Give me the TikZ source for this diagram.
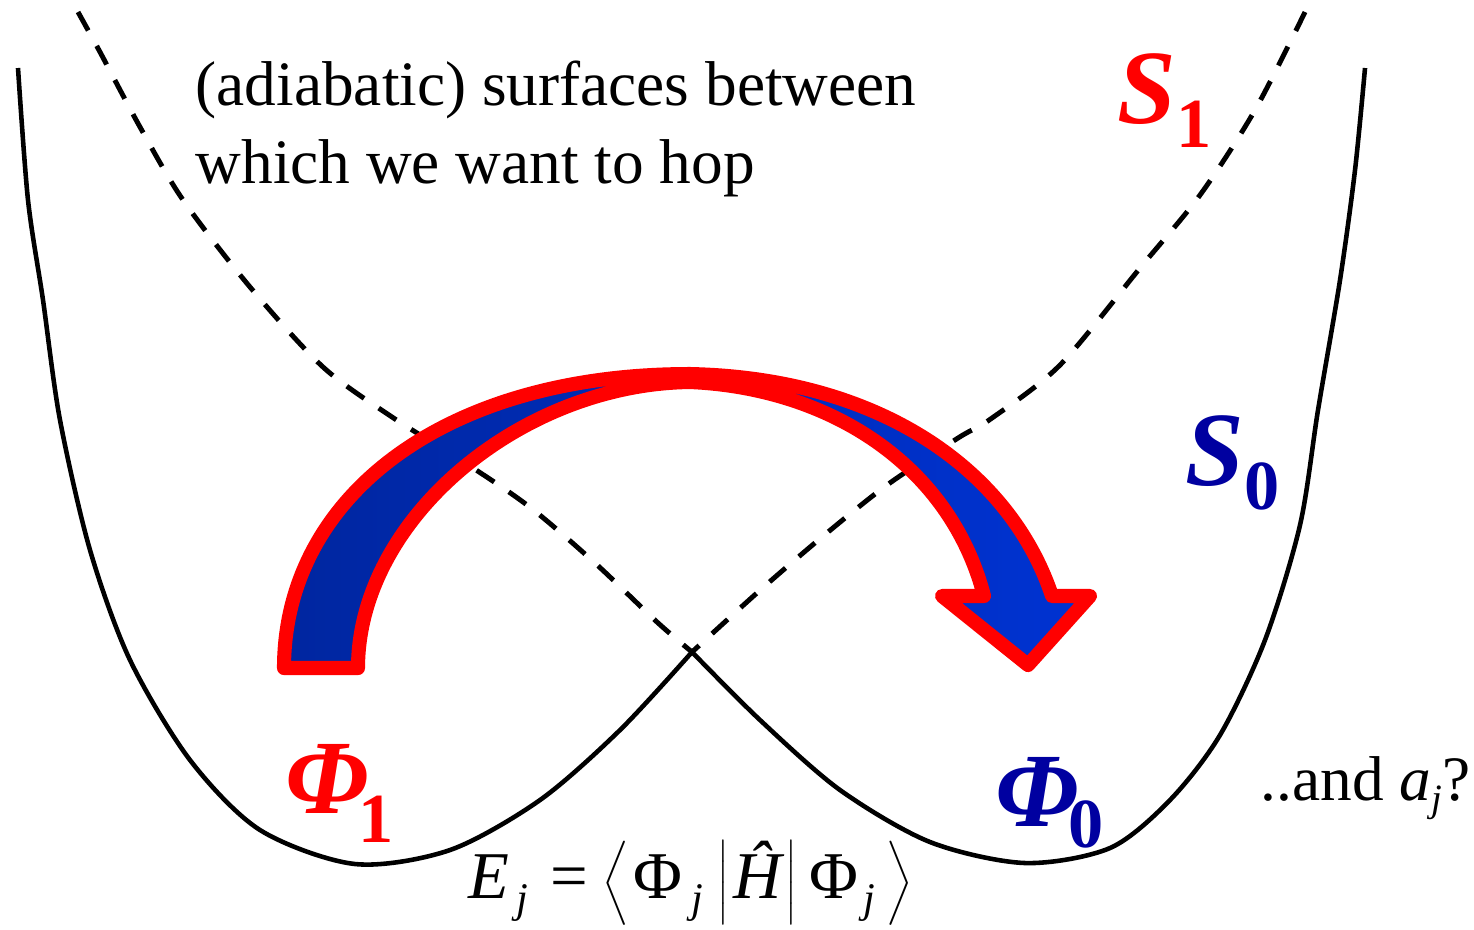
\documentclass[tikz,border=0pt]{standalone}
\usepackage{fontspec}
\setmainfont{Liberation Serif}
\definecolor{hopred}{RGB}{255,0,0}
\definecolor{navy}{RGB}{0,0,160}
\definecolor{hopdark}{RGB}{0,38,160}
\definecolor{hoplight}{RGB}{0,51,210}
\newcommand{\tallstrut}{\vphantom{\rule[-9pt]{0pt}{19pt}}}
\newcommand{\subj}{\raisebox{-4pt}{\fontsize{12}{12}\selectfont\textit{j}}}

\begin{document}
\begin{tikzpicture}[x=0.01cm, y=-0.01cm,
    well/.style={black, line width=1.3pt},
    diab/.style={black, line width=1.4pt, dash pattern=on 6pt off 5pt},
    hop/.style={draw=hopred, line width=4pt, line join=round,
                left color=hopdark, right color=hoplight},
    txt/.style={anchor=base west, inner sep=0pt, font=\fontsize{18}{20}\selectfont},
    state/.style={anchor=base west, inner sep=0pt,
                  font=\fontsize{30}{32}\selectfont\bfseries\itshape}]

\useasboundingbox (0,0) rectangle (1474,929);
\coordinate (cross) at (692,652);

% ground state S0 (solid) and S1 (dashed)
\draw[well] plot[smooth] coordinates {(18,68) (28,200) (43,300) (60,420) (90,550)
    (130,660) (190,760) (260,830) (355,864) (450,850) (540,800) (620,730) (cross)};
\draw[well] plot[smooth] coordinates {(cross) (760,720) (840,790) (930,842)
    (1025,863) (1110,848) (1170,800) (1220,735) (1265,640) (1300,525) (1318,410)
    (1340,280) (1355,170) (1365,68)};
\draw[diab] plot[smooth] coordinates {(78,12) (100,52) (140,127) (183,200) (250,287)
    (323,367) (392,417) (470,466) (531,508) (595,563) (657,622) (cross)};
\draw[diab] plot[smooth] coordinates {(1305,12) (1255,110) (1200,195) (1140,268)
    (1060,365) (992,418) (958,438) (887,485) (822,537) (758,592) (cross)};

% hop arrow
\path[hop] (284,668) .. controls (284,500) and (440,374) .. (690,374)
    .. controls (880,378) and (1010,470) .. (1052,596)
    -- (1090,596) -- (1028,665) -- (942,596) -- (984,596)
    .. controls (950,465) and (830,388) .. (690,382)
    .. controls (520,384) and (358,520) .. (358,668) -- cycle;

\node[txt] (upper) at (195,105) {(adiabatic) surfaces between};
\node[txt] (lower) at (195,183) {which we want to hop};

\node[state, text=hopred] (s1) at (1117,123)
    {S\raisebox{-7pt}{\fontsize{20}{20}\selectfont\upshape 1}};
\node[state, text=navy] (s0) at (1185,485)
    {S\raisebox{-7pt}{\fontsize{20}{20}\selectfont\upshape 0}};
\node[state, text=hopred] (phi1) at (285,813)
    {Φ\kern-3pt\raisebox{-8.5pt}{\fontsize{20}{20}\selectfont\upshape 1}};
\node[state, text=navy] (phi0) at (995,826)
    {Φ\kern-3pt\raisebox{-6pt}{\fontsize{20}{20}\selectfont\upshape 0}};

\node[txt] (ask) at (1260,800)
    {..and \textit{a}\raisebox{-3.4pt}{\fontsize{11}{11}\selectfont\textit{j}}?};

\node[txt, font=\fontsize{19}{21}\selectfont] (energy) at (468,898)
    {\textit{E}\hspace{2pt}\subj\hspace{6.4pt}=\hspace{4pt}%
     $\left\langle\tallstrut\right.$Φ\hspace{2.6pt}\subj\hspace{4.3pt}%
     $\left|\tallstrut\right.$\textit{Ĥ}$\left|\tallstrut\right.$\hspace{2.3pt}Φ\hspace{1.5pt}%
     \subj\hspace{2pt}$\left.\tallstrut\right\rangle$};
\end{tikzpicture}
\end{document}
